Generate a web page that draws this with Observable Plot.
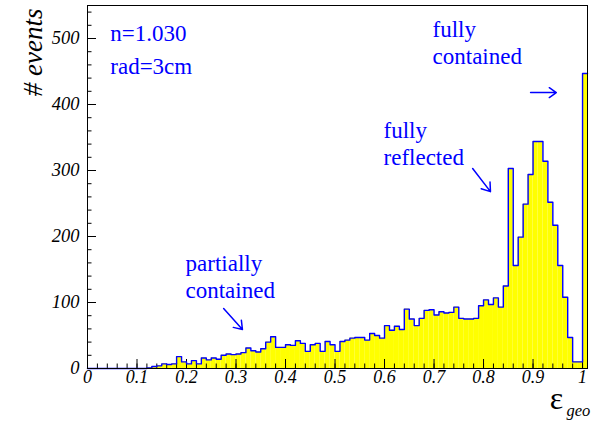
<!DOCTYPE html>
<html><head><meta charset="utf-8">
<script src="https://cdn.jsdelivr.net/npm/d3@7"></script>
<script src="https://cdn.jsdelivr.net/npm/@observablehq/plot@0.6"></script>
<style>body{margin:0;background:#fff} svg{display:block;background:#fff}</style>
</head><body><div id="chart"></div>
<script>
// histogram of geometric efficiency, bins of 0.01 from 0 to 1.01
const binWidth = 0.01;
const counts = [
  0,0,0,0,0,0,0,0,0,0,          // 0.00-0.09
  0,0,1,3,4,7,6,7,18,10,        // 0.10-0.19
  7,12,7,16,13,16,14,20,22,21,  // 0.20-0.29
  22,24,31,27,25,30,40,48,32,32,// 0.30-0.39
  36,35,42,38,26,36,38,26,41,36,// 0.40-0.49
  26,41,43,46,47,47,43,53,50,46,// 0.50-0.59
  65,58,64,59,90,75,65,76,88,89,// 0.60-0.69
  81,86,84,85,93,76,75,75,76,95,// 0.70-0.79
  104,97,107,93,125,303,156,199,249,294, // 0.80-0.89
  344,344,314,252,217,156,108,47,10,10,  // 0.90-0.99
  447                                    // 1.00
];
const xMajorTicks = [0,0.1,0.2,0.3,0.4,0.5,0.6,0.7,0.8,0.9,1];
const xTickLabels = ["0","0.1","0.2","0.3","0.4","0.5","0.6","0.7","0.8","0.9","1"];
const xMinorTicks = d3.range(0, 51).map(i => i * 0.02).filter(v => v <= 1.0001);
const yMajorTicks = [0,100,200,300,400,500];
const yTickLabels = ["0","100","200","300","400","500"];
const yMinorTicks = d3.range(0, 28).map(i => i * 20);

const bins = counts.map((c, i) => ({x1: i * binWidth, x2: (i + 1) * binWidth, n: c}));
const outline = counts.map((c, i) => ({x: i * binWidth, n: c}));
outline.push({x: counts.length * binWidth, n: counts[counts.length - 1]});

const serif = "'Liberation Serif', 'Times New Roman', serif";
const blue = "#0000ff";
const fh = 363; // frame height in px
const fw = 500; // frame width in px

const chart = Plot.plot({
  width: 600,
  height: 424,
  marginLeft: 87,
  marginRight: 13,
  marginTop: 5,
  marginBottom: 56,
  x: {domain: [0, 1.01], axis: null},
  y: {domain: [0, 550], axis: null},
  style: {fontFamily: serif, background: "#fff"},
  marks: [
    Plot.rectY(bins, {x1: "x1", x2: "x2", y: "n", fill: "#ffff00"}),
    // x ticks (inside, ROOT style)
    Plot.tickX(xMinorTicks, {x: d => d, insetTop: fh - 4.5, stroke: "#000", strokeWidth: 1}),
    Plot.tickX(xMajorTicks, {x: d => d, insetTop: fh - 9, stroke: "#000", strokeWidth: 1}),
    // y ticks
    Plot.tickY(yMinorTicks, {y: d => d, insetRight: fw - 4.5, stroke: "#000", strokeWidth: 1}),
    Plot.tickY(yMajorTicks, {y: d => d, insetRight: fw - 9, stroke: "#000", strokeWidth: 1}),
    // histogram outline
    Plot.line(outline, {x: "x", y: "n", curve: "step-after", stroke: blue, strokeWidth: 1.4}),
    Plot.frame({stroke: "#000", strokeWidth: 1}),
    // tick labels
    Plot.text(xMajorTicks, {x: d => d, text: (d, i) => xTickLabels[i], frameAnchor: "bottom", dy: 14,
      fontSize: 18, fontStyle: "italic", fill: "#000", textAnchor: "middle", fontFamily: serif}),
    Plot.text(yMajorTicks, {y: d => d, text: (d, i) => yTickLabels[i], frameAnchor: "left", dx: -8,
      fontSize: 18.5, fontStyle: "italic", fill: "#000", textAnchor: "end", fontFamily: serif}),
    // axis titles
    Plot.text(["# events"], {frameAnchor: "top-left", dx: -65, dy: 3, rotate: -90, textAnchor: "end",
      fontSize: 27, fontStyle: "italic", fill: "#000", text: d => d, fontFamily: serif}),
    Plot.text(["\u03b5"], {frameAnchor: "bottom-right", dx: -31, dy: 40, textAnchor: "middle",
      fontSize: 32, fill: "#000", text: d => d, fontFamily: serif}),
    Plot.text(["geo"], {frameAnchor: "bottom-right", dx: -21, dy: 47, textAnchor: "start",
      fontSize: 16.5, fontStyle: "italic", fill: "#000", text: d => d, fontFamily: serif}),
    // annotations
    Plot.text(["n=1.030", "rad=3cm"], {x: 0.046, y: (d, i) => [496, 446][i], text: d => d,
      textAnchor: "start", lineAnchor: "bottom", fontSize: 23, fill: blue, fontFamily: serif}),
    Plot.text(["fully", "contained"], {x: 0.697, y: (d, i) => [502, 461][i], text: d => d,
      textAnchor: "start", lineAnchor: "bottom", fontSize: 23, fill: blue, fontFamily: serif}),
    Plot.text(["fully", "reflected"], {x: 0.598, y: (d, i) => [349, 309][i], text: d => d,
      textAnchor: "start", lineAnchor: "bottom", fontSize: 23, fill: blue, fontFamily: serif}),
    Plot.text(["partially", "contained"], {x: 0.198, y: (d, i) => [148, 107][i], text: d => d,
      textAnchor: "start", lineAnchor: "bottom", fontSize: 23, fill: blue, fontFamily: serif}),
    Plot.arrow([{x1: 0.895, y1: 418, x2: 0.947, y2: 418}, {x1: 0.778, y1: 303, x2: 0.814, y2: 268},
                {x1: 0.275, y1: 91, x2: 0.313, y2: 59}],
      {x1: "x1", y1: "y1", x2: "x2", y2: "y2", stroke: blue, strokeWidth: 1.5, headLength: 10, headAngle: 70})
  ]
});
document.getElementById("chart").appendChild(chart);
</script>
</body></html>
